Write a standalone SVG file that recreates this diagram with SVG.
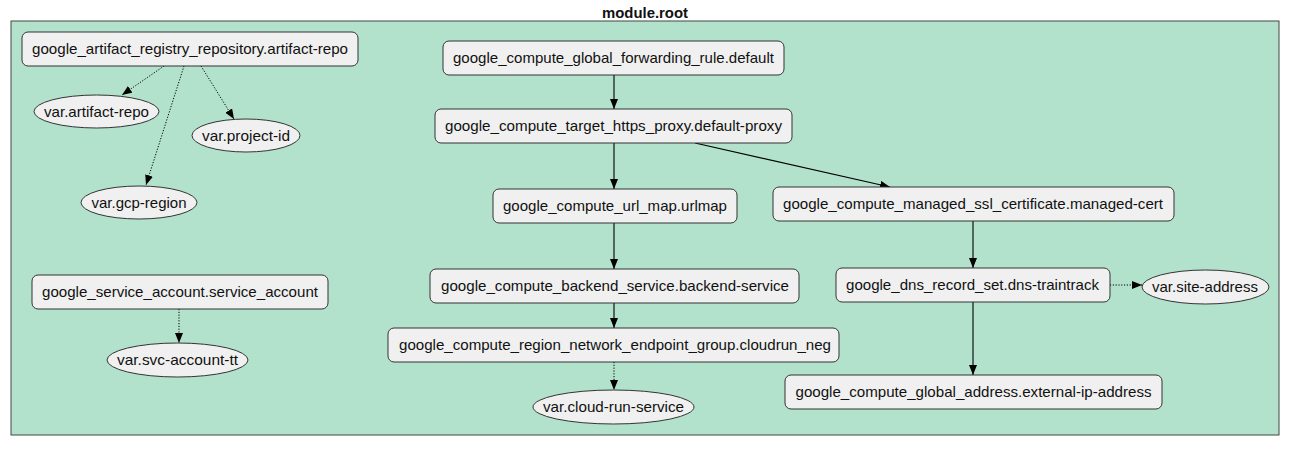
<svg xmlns="http://www.w3.org/2000/svg" width="1293" height="451" viewBox="0 0 1293 451">
<defs>
<marker id="arr" markerUnits="userSpaceOnUse" markerWidth="10" markerHeight="8" refX="10" refY="4" orient="auto">
<path d="M0,0 L10,4 L0,8 z" fill="#000"/>
</marker>
<style>
text{font-family:"Liberation Sans",Arial,sans-serif;font-size:15px;fill:#111;text-anchor:middle}
.title{font-weight:bold;font-size:15px}
.res rect{fill:#f0f0f0;stroke:#333;stroke-width:1}
.var ellipse{fill:#f0f0f0;stroke:#333;stroke-width:1}
.e{stroke:#000;stroke-width:1.1;fill:none;marker-end:url(#arr)}
.d{stroke-dasharray:1.2 1.6;stroke-width:1}
</style>
</defs>
<rect width="1293" height="451" fill="#fff"/>
<g id="cluster">
<rect x="11" y="21" width="1268" height="414" fill="#b2e2cc" stroke="#444" stroke-width="1"/>
<text class="title" x="645" y="18" textLength="86" lengthAdjust="spacingAndGlyphs">module.root</text>
</g>
<g id="connectors">
<line class="e d" x1="164" y1="66" x2="122" y2="95"/>
<line class="e d" x1="184" y1="66" x2="146" y2="185"/>
<line class="e d" x1="201" y1="66" x2="234" y2="119"/>
<line class="e" x1="614" y1="75" x2="614" y2="109"/>
<line class="e" x1="614" y1="143" x2="614" y2="189"/>
<line class="e" x1="695" y1="143" x2="890" y2="187"/>
<line class="e" x1="614" y1="223" x2="614" y2="269"/>
<line class="e" x1="614" y1="303" x2="614" y2="328"/>
<line class="e d" x1="614" y1="362" x2="614" y2="390"/>
<line class="e" x1="973" y1="221" x2="973" y2="268"/>
<line class="e" x1="973" y1="302" x2="973" y2="375"/>
<line class="e d" x1="1110" y1="285" x2="1142" y2="285"/>
<line class="e d" x1="179" y1="309" x2="179" y2="343"/>
</g>
<g id="n_artifact_repo" class="res">
<rect x="22" y="32" width="336" height="34" rx="6"/>
<text x="190" y="54" textLength="316" lengthAdjust="spacingAndGlyphs">google_artifact_registry_repository.artifact-repo</text>
</g>
<g id="n_var_artifact_repo" class="var">
<ellipse cx="96.5" cy="111.5" rx="62.5" ry="16.5"/>
<text x="96.5" y="116.5" textLength="105" lengthAdjust="spacingAndGlyphs">var.artifact-repo</text>
</g>
<g id="n_var_project_id" class="var">
<ellipse cx="246" cy="135.5" rx="54" ry="16.5"/>
<text x="246" y="140.5" textLength="88" lengthAdjust="spacingAndGlyphs">var.project-id</text>
</g>
<g id="n_var_gcp_region" class="var">
<ellipse cx="139" cy="202.5" rx="58" ry="16.5"/>
<text x="139" y="207.5" textLength="95" lengthAdjust="spacingAndGlyphs">var.gcp-region</text>
</g>
<g id="n_service_account" class="res">
<rect x="32" y="275" width="296" height="34" rx="6"/>
<text x="180" y="297" textLength="276" lengthAdjust="spacingAndGlyphs">google_service_account.service_account</text>
</g>
<g id="n_var_svc_account" class="var">
<ellipse cx="177.5" cy="360" rx="70.5" ry="17"/>
<text x="177.5" y="365" textLength="121" lengthAdjust="spacingAndGlyphs">var.svc-account-tt</text>
</g>
<g id="n_forwarding_rule" class="res">
<rect x="443" y="41" width="341" height="34" rx="6"/>
<text x="613.5" y="63" textLength="321" lengthAdjust="spacingAndGlyphs">google_compute_global_forwarding_rule.default</text>
</g>
<g id="n_https_proxy" class="res">
<rect x="435" y="109" width="357" height="34" rx="6"/>
<text x="613.5" y="131" textLength="337" lengthAdjust="spacingAndGlyphs">google_compute_target_https_proxy.default-proxy</text>
</g>
<g id="n_url_map" class="res">
<rect x="493" y="189" width="244" height="34" rx="6"/>
<text x="615" y="211" textLength="224" lengthAdjust="spacingAndGlyphs">google_compute_url_map.urlmap</text>
</g>
<g id="n_backend_service" class="res">
<rect x="430" y="269" width="369" height="34" rx="6"/>
<text x="615" y="291" textLength="348" lengthAdjust="spacingAndGlyphs">google_compute_backend_service.backend-service</text>
</g>
<g id="n_cloudrun_neg" class="res">
<rect x="388" y="328" width="451" height="34" rx="6"/>
<text x="615" y="350" textLength="432" lengthAdjust="spacingAndGlyphs">google_compute_region_network_endpoint_group.cloudrun_neg</text>
</g>
<g id="n_var_cloud_run" class="var">
<ellipse cx="613.5" cy="407" rx="80.5" ry="17"/>
<text x="613.5" y="412" textLength="141" lengthAdjust="spacingAndGlyphs">var.cloud-run-service</text>
</g>
<g id="n_managed_cert" class="res">
<rect x="773" y="187" width="401" height="34" rx="6"/>
<text x="973" y="209" textLength="380" lengthAdjust="spacingAndGlyphs">google_compute_managed_ssl_certificate.managed-cert</text>
</g>
<g id="n_dns_record" class="res">
<rect x="836" y="268" width="274" height="34" rx="6"/>
<text x="972.5" y="290" textLength="253" lengthAdjust="spacingAndGlyphs">google_dns_record_set.dns-traintrack</text>
</g>
<g id="n_var_site_address" class="var">
<ellipse cx="1205.5" cy="287" rx="63.5" ry="17"/>
<text x="1205" y="292" textLength="106" lengthAdjust="spacingAndGlyphs">var.site-address</text>
</g>
<g id="n_external_ip" class="res">
<rect x="785" y="375" width="377" height="34" rx="6"/>
<text x="973.5" y="397" textLength="356" lengthAdjust="spacingAndGlyphs">google_compute_global_address.external-ip-address</text>
</g>
</svg>
